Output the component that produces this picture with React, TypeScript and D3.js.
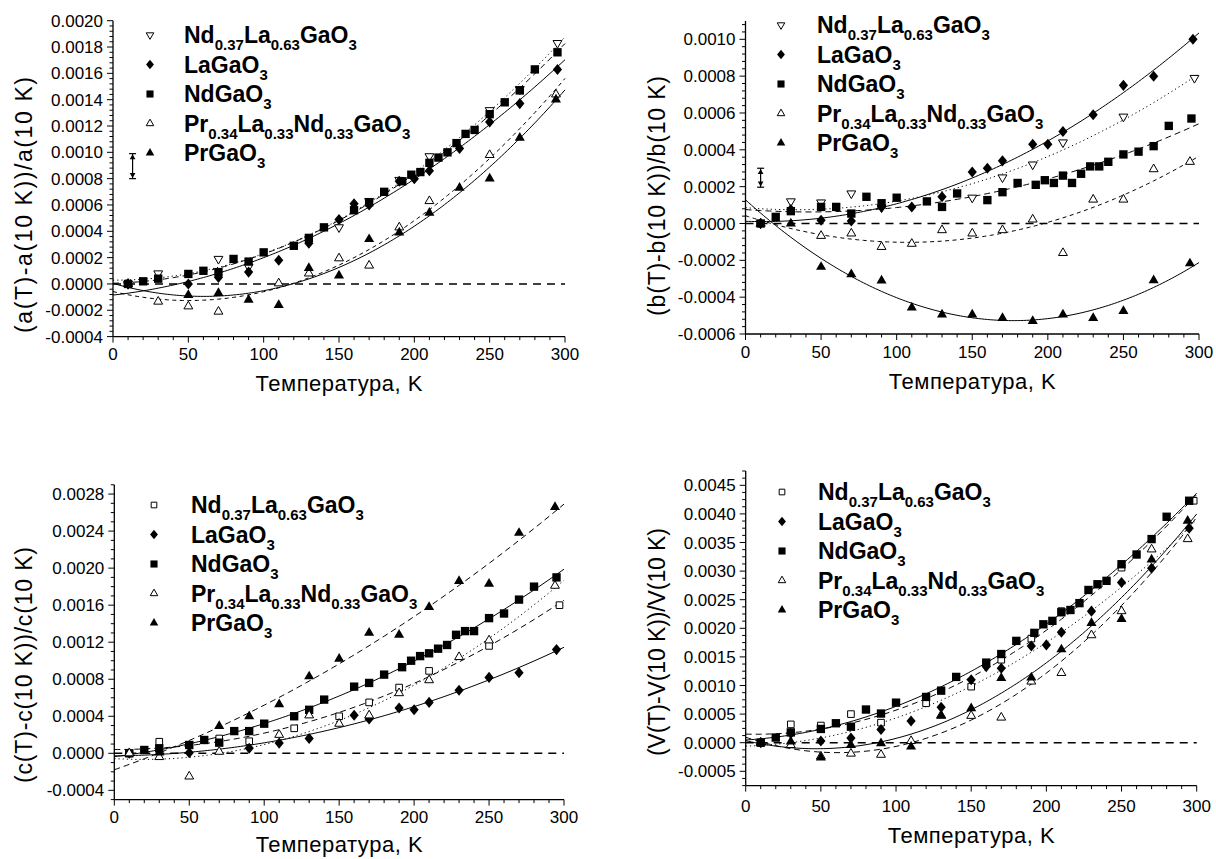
import * as d3 from "d3";

const FONT = "'Liberation Sans', Arial, Helvetica, sans-serif";

// ---------- (a) lattice parameter a ----------
const aNd37 = [[10, 0], [30, 0.00008], [70, 0.00019], [90, 0.00013], [150, 0.00043], [170, 0.00063], [190, 0.00079], [210, 0.00097], [250, 0.00132], [270, 0.00148], [295, 0.00183]];
const aLa = [[10, 0], [50, 0], [70, 0.00005], [90, 0.00009], [110, 0.00018], [130, 0.00031], [150, 0.00049], [160, 0.00061], [170, 0.0006], [190, 0.00078], [200, 0.0008], [210, 0.00086], [230, 0.00103], [250, 0.00123], [270, 0.00137], [295, 0.00163]];
const aNd = [[10, 0], [20, 0.00002], [30, 0.00004], [50, 0.000076], [60, 0.0001], [70, 0.00009], [80, 0.00019], [90, 0.00017], [100, 0.00024], [120, 0.00029], [130, 0.00035], [140, 0.00043], [160, 0.00056], [170, 0.00062], [180, 0.0007], [192, 0.00078], [198, 0.00083], [204, 0.00085], [210, 0.00092], [216, 0.00096], [222, 0.001], [228, 0.00107], [234, 0.00114], [240, 0.00117], [250, 0.00129], [260, 0.00138], [270, 0.00147], [280, 0.00163], [295, 0.00176]];
const aPr34 = [[10, 0], [30, -0.000134], [50, -0.00017], [70, -0.00021], [110, 0.000005], [130, 0.00008], [150, 0.000195], [170, 0.00014], [190, 0.00043], [210, 0.00063], [250, 0.00098], [294, 0.00144]];
const aPr = [[10, 0], [50, -0.000084], [70, -0.00007], [90, -0.00012], [110, -0.00016], [130, 0.00012], [150, 0.000063], [170, 0.00034], [190, 0.00039], [210, 0.00054], [230, 0.00073], [250, 0.0008], [270, 0.00111], [294, 0.0014]];

// ---------- (b) lattice parameter b ----------
const bNd37 = [[10, 0], [30, 0.00012], [50, 0.000114], [70, 0.000163], [90, 0.000087], [150, 0.00014], [170, 0.00025], [190, 0.00032], [210, 0.00044], [250, 0.00058], [297, 0.00079]];
const bLa = [[10, 0], [30, 0.000076], [50, 0.000018], [70, 0.000013], [90, 0.00009], [110, 0.00009], [130, 0.000145], [150, 0.00028], [160, 0.0003], [170, 0.00034], [190, 0.00043], [200, 0.00043], [210, 0.0005], [230, 0.00059], [250, 0.00075], [270, 0.0008], [296, 0.001]];
const bNd = [[10, 0], [20, 0.000036], [30, 0.000067], [50, 0.00009], [60, 0.00009], [70, 0.000054], [80, 0.000145], [90, 0.00011], [100, 0.00014], [120, 0.00012], [130, 0.00009], [140, 0.000163], [160, 0.000127], [170, 0.00017], [180, 0.00022], [192, 0.00021], [198, 0.000235], [204, 0.00022], [210, 0.00026], [216, 0.00022], [222, 0.00027], [228, 0.00031], [234, 0.00031], [240, 0.000335], [250, 0.000375], [260, 0.00039], [270, 0.00042], [280, 0.00053], [295, 0.00057]];
const bPr34 = [[10, 0], [50, -0.000067], [70, -0.000054], [90, -0.000127], [110, -0.00011], [130, -0.000036], [150, -0.000054], [170, -0.000036], [190, 0.000022], [210, -0.00016], [230, 0.00013], [250, 0.00013], [270, 0.000295], [294, 0.000335]];
const bPr = [[10, 0], [30, 0], [50, -0.000236], [70, -0.000276], [90, -0.00031], [110, -0.000457], [130, -0.000495], [150, -0.000495], [170, -0.000513], [190, -0.00053], [210, -0.000495], [230, -0.000513], [250, -0.000475], [270, -0.000308], [294, -0.000217]];

// ---------- (c) lattice parameter c ----------
const cNd37 = [[10, 0], [30, 0.000125], [50, 0.00009], [70, 0.00016], [90, 0.00013], [120, 0.00027], [150, 0.0004], [170, 0.00055], [190, 0.00071], [210, 0.00089], [250, 0.00116], [297, 0.0016]];
const cLa = [[10, 0], [50, 0.000007], [90, 0.000054], [110, 0.00011], [130, 0.00016], [160, 0.00041], [170, 0.00037], [190, 0.00049], [200, 0.00047], [210, 0.00055], [230, 0.00068], [250, 0.00082], [270, 0.00087], [295, 0.00112]];
const cNd = [[10, 0], [20, 0.000036], [30, 0.000054], [50, 0.00009], [60, 0.000144], [70, 0.000115], [80, 0.00024], [90, 0.00024], [100, 0.00032], [120, 0.0004], [130, 0.00047], [140, 0.00058], [160, 0.00072], [170, 0.00076], [180, 0.00085], [192, 0.00093], [198, 0.001], [204, 0.00105], [210, 0.00108], [216, 0.00113], [222, 0.00117], [228, 0.00128], [234, 0.00132], [240, 0.00132], [250, 0.00146], [260, 0.00151], [270, 0.00166], [280, 0.0018], [295, 0.0019]];
const cPr34 = [[10, 0], [30, -0.00004], [50, -0.00025], [70, 0.000017], [110, 0.0002], [130, 0.00041], [150, 0.00032], [170, 0.00041], [190, 0.00065], [210, 0.00079], [230, 0.00104], [250, 0.00122], [294, 0.00181]];
const cPr = [[30, 0.000007], [70, 0.000295], [90, 0.0004], [110, 0.00053], [130, 0.00083], [150, 0.00102], [170, 0.0013], [190, 0.00128], [210, 0.00158], [230, 0.00186], [250, 0.00183], [270, 0.00238], [294, 0.00266]];

// ---------- (d) cell volume V ----------
const dNd37 = [[10, 0], [30, 0.00032], [50, 0.0003], [70, 0.0005], [90, 0.00035], [120, 0.00069], [150, 0.00098], [170, 0.00145], [190, 0.00182], [210, 0.0023], [250, 0.00306], [298, 0.00423]];
const dLa = [[10, 0], [30, 0.00016], [50, 0.00003], [70, 0.00008], [90, 0.00023], [110, 0.00038], [130, 0.00062], [150, 0.0011], [160, 0.00133], [170, 0.0013], [190, 0.00169], [200, 0.00171], [210, 0.00193], [230, 0.0023], [250, 0.0028], [270, 0.00305], [295, 0.00375]];
const dNd = [[10, 0], [20, 0.00009], [30, 0.00018], [50, 0.00024], [60, 0.00034], [70, 0.00028], [80, 0.00058], [90, 0.00051], [100, 0.0007], [120, 0.0008], [130, 0.00091], [140, 0.00115], [160, 0.0014], [170, 0.00155], [180, 0.00178], [192, 0.00192], [198, 0.00207], [204, 0.00213], [210, 0.00228], [216, 0.00232], [222, 0.00244], [228, 0.00267], [234, 0.00277], [240, 0.00283], [250, 0.00312], [260, 0.00329], [270, 0.00356], [280, 0.00395], [295, 0.00423]];
const dPr34 = [[10, 0], [30, -0.00004], [50, -0.00024], [70, -0.00019], [90, -0.00021], [110, 0.00003], [130, 0.00048], [150, 0.00047], [170, 0.00044], [190, 0.00107], [210, 0.00122], [230, 0.00188], [250, 0.0023], [270, 0.00338], [294, 0.00356]];
const dPr = [[10, 0], [30, 0.00002], [50, -0.00026], [70, -0.00004], [90, -0.00001], [110, -0.00007], [130, 0.00047], [150, 0.0006], [170, 0.00113], [190, 0.00114], [210, 0.00163], [230, 0.00209], [250, 0.00216], [270, 0.0032], [294, 0.00388]];

// tick labels
const xTicks = [0, 50, 100, 150, 200, 250, 300];
const yTicksA = [-0.0004, -0.0002, 0, 0.0002, 0.0004, 0.0006, 0.0008, 0.001, 0.0012, 0.0014, 0.0016, 0.0018, 0.002];
const yTicksB = [-0.0006, -0.0004, -0.0002, 0, 0.0002, 0.0004, 0.0006, 0.0008, 0.001];
const yTicksC = [-0.0004, 0, 0.0004, 0.0008, 0.0012, 0.0016, 0.002, 0.0024, 0.0028];
const yTicksD = [-0.0005, 0, 0.0005, 0.001, 0.0015, 0.002, 0.0025, 0.003, 0.0035, 0.004, 0.0045];

// legend names (text, subscript?)
const nameNd37 = [["Nd", 0], ["0.37", 1], ["La", 0], ["0.63", 1], ["GaO", 0], ["3", 1]];
const nameLa = [["LaGaO", 0], ["3", 1]];
const nameNd = [["NdGaO", 0], ["3", 1]];
const namePr34 = [["Pr", 0], ["0.34", 1], ["La", 0], ["0.33", 1], ["Nd", 0], ["0.33", 1], ["GaO", 0], ["3", 1]];
const namePr = [["PrGaO", 0], ["3", 1]];

// error bars shown at the left of (a) and (b): [T, low, high]
const errA = [13, 0.0008, 0.00099];
const errB = [10, 0.000197, 0.0003];

const DOT = "1.2,3";
const DASH = "6,4";
const SDASH = "4,3.5";

// least squares parabola through the points
function fitQuad(pts) {
  let s0 = 0, s1 = 0, s2 = 0, s3 = 0, s4 = 0, t0 = 0, t1 = 0, t2 = 0;
  for (const [T, v] of pts) {
    const x = T / 100, x2 = x * x;
    s0 += 1; s1 += x; s2 += x2; s3 += x2 * x; s4 += x2 * x2;
    t0 += v; t1 += x * v; t2 += x2 * v;
  }
  const det3 = (m) =>
    m[0][0] * (m[1][1] * m[2][2] - m[1][2] * m[2][1]) -
    m[0][1] * (m[1][0] * m[2][2] - m[1][2] * m[2][0]) +
    m[0][2] * (m[1][0] * m[2][1] - m[1][1] * m[2][0]);
  const M = [[s0, s1, s2], [s1, s2, s3], [s2, s3, s4]];
  const r = [t0, t1, t2];
  const D = det3(M);
  const c = [0, 1, 2].map((k) => det3(M.map((row, i) => row.map((val, j) => (j === k ? r[i] : val)))) / D);
  return (T) => c[0] + c[1] * (T / 100) + c[2] * (T / 100) ** 2;
}

function Marker({ kind, x, y, k = 1 }) {
  const t = `translate(${x},${y})`;
  if (kind === "sq") return <path d={d3.symbol(d3.symbolSquare, 70 * k * k)()} transform={t} fill="#000" />;
  if (kind === "sqo")
    return <path d={d3.symbol(d3.symbolSquare, 44 * k * k)()} transform={t} fill="#fff" stroke="#000" strokeWidth={1} />;
  if (kind === "dia")
    return <path d={d3.symbol(d3.symbolDiamond2, 54 * k * k)()} transform={`${t} scale(1,1.2)`} fill="#000" />;
  if (kind === "tu") return <path d={d3.symbol(d3.symbolTriangle, 44 * k * k)()} transform={t} fill="#000" />;
  if (kind === "tuo")
    return <path d={d3.symbol(d3.symbolTriangle, 34 * k * k)()} transform={t} fill="#fff" stroke="#000" strokeWidth={1} />;
  // open triangle pointing down
  return (
    <path d={d3.symbol(d3.symbolTriangle, 34 * k * k)()} transform={`${t} rotate(180)`} fill="#fff" stroke="#000" strokeWidth={1} />
  );
}

function Label({ x, y, parts }) {
  let shift = 0;
  return (
    <text x={x} y={y} fontFamily={FONT} fontWeight="bold" fontSize={23} fill="#000">
      {parts.map(([s, sub], i) => {
        const target = sub ? 7 : 0;
        const dy = target - shift;
        shift = target;
        return (
          <tspan key={i} dy={dy} fontSize={sub ? 15 : 23}>
            {s}
          </tspan>
        );
      })}
    </text>
  );
}

const fmt = (v) => (Math.abs(v) < 1e-12 ? "0.0000" : v.toFixed(4));

function Panel({ cfg }) {
  const x = d3.scaleLinear().domain([0, 300]).range([cfg.x0, cfg.x1]);
  const y = d3.scaleLinear().domain(cfg.yDom).range(cfg.yRange);
  const yb = cfg.yRange[0];
  const minorX = d3.range(0, 301, 10).filter((t) => t % 50 !== 0);
  const minorY = d3.range(cfg.yDom[0], cfg.yDom[1] + 1e-9, cfg.minor).filter(
    (v) => !cfg.yTicks.some((t) => Math.abs(t - v) < cfg.minor / 10)
  );
  const line = d3.line().x((d) => x(d[0])).y((d) => y(d[1]));
  const grid = d3.range(0, 300.1, 2);
  const [eT, eLo, eHi] = cfg.err || [];
  return (
    <g>
      {/* zero line */}
      <line x1={x(0)} x2={x(300)} y1={y(0)} y2={y(0)} stroke="#000" strokeWidth={1.4} strokeDasharray="8,6" />
      {/* fits */}
      {cfg.series.map((s, i) => {
        const f = fitQuad(s.pts);
        return (
          <path
            key={"f" + i}
            d={line(grid.map((T) => [T, f(T)]))}
            fill="none"
            stroke="#000"
            strokeWidth={1}
            strokeDasharray={s.dash || null}
          />
        );
      })}
      {/* points */}
      {cfg.series.map((s, i) => (
        <g key={"p" + i}>
          {s.pts.map((p, j) => (
            <Marker key={j} kind={s.marker} x={x(p[0])} y={y(p[1])} />
          ))}
        </g>
      ))}
      {/* axes */}
      <line x1={cfg.x0} x2={cfg.x0} y1={cfg.yRange[0]} y2={cfg.yRange[1]} stroke="#000" strokeWidth={1.3} />
      <line x1={cfg.x0} x2={cfg.x1} y1={yb} y2={yb} stroke="#000" strokeWidth={1.3} />
      {xTicks.map((t) => (
        <g key={"xt" + t}>
          <line x1={x(t)} x2={x(t)} y1={yb} y2={yb + 6} stroke="#000" strokeWidth={1} />
          <text x={x(t)} y={cfg.xLabY} textAnchor="middle" fontFamily={FONT} fontSize={17}>
            {t}
          </text>
        </g>
      ))}
      {minorX.map((t) => (
        <line key={"xm" + t} x1={x(t)} x2={x(t)} y1={yb} y2={yb + 3.5} stroke="#000" strokeWidth={1} />
      ))}
      {cfg.yTicks.map((v) => (
        <g key={"yt" + v}>
          <line x1={cfg.x0 - 6} x2={cfg.x0} y1={y(v)} y2={y(v)} stroke="#000" strokeWidth={1} />
          <text x={cfg.x0 - 10} y={y(v)} dy="0.36em" textAnchor="end" fontFamily={FONT} fontSize={17}>
            {fmt(v)}
          </text>
        </g>
      ))}
      {minorY.map((v, i) => (
        <line key={"ym" + i} x1={cfg.x0 - 3.5} x2={cfg.x0} y1={y(v)} y2={y(v)} stroke="#000" strokeWidth={1} />
      ))}
      {/* titles */}
      <text
        x={(cfg.x0 + cfg.x1) / 2}
        y={cfg.xTitleY}
        textAnchor="middle"
        fontFamily={FONT}
        fontSize={22}
        textLength={167}
        lengthAdjust="spacing"
      >
        Температура, K
      </text>
      <text
        transform={`translate(${cfg.yTitleX},${cfg.yTitleY}) rotate(-90)`}
        textAnchor="middle"
        dy="0.35em"
        fontFamily={FONT}
        fontSize={23}
        textLength={cfg.yTitleLen}
        lengthAdjust="spacing"
      >
        {cfg.yTitle}
      </text>
      {/* legend */}
      {cfg.series.map((s, i) => (
        <g key={"l" + i}>
          <Marker kind={s.marker} x={cfg.legX} y={cfg.legY + i * 29.5} k={0.85} />
          <Label x={cfg.legTextX} y={cfg.legY + i * 29.5 + 8} parts={s.name} />
        </g>
      ))}
      {/* error bar */}
      {cfg.err && (
        <g stroke="#000" strokeWidth={1.2}>
          <line x1={x(eT)} x2={x(eT)} y1={y(eLo)} y2={y(eHi)} />
          <line x1={x(eT) - 3.5} x2={x(eT) + 3.5} y1={y(eLo)} y2={y(eLo)} />
          <line x1={x(eT) - 3.5} x2={x(eT) + 3.5} y1={y(eHi)} y2={y(eHi)} />
          <path d={d3.symbol(d3.symbolTriangle, 14)()} transform={`translate(${x(eT)},${y(eHi) + 4})`} fill="#000" stroke="none" />
          <path
            d={d3.symbol(d3.symbolTriangle, 14)()}
            transform={`translate(${x(eT)},${y(eLo) - 4}) rotate(180)`}
            fill="#000"
            stroke="none"
          />
        </g>
      )}
    </g>
  );
}

const panels = [
  {
    x0: 113, x1: 565, yDom: [-0.0004, 0.002], yRange: [336.6, 20.7], yTicks: yTicksA, minor: 0.00004,
    xLabY: 360, xTitleY: 391, yTitle: "(a(T)-a(10 K))/a(10 K)", yTitleX: 24, yTitleY: 205, yTitleLen: 256,
    legX: 150, legTextX: 184, legY: 35, err: errA,
    series: [
      { pts: aNd37, marker: "tdo", dash: DOT, name: nameNd37 },
      { pts: aLa, marker: "dia", dash: null, name: nameLa },
      { pts: aNd, marker: "sq", dash: DASH, name: nameNd },
      { pts: aPr34, marker: "tuo", dash: SDASH, name: namePr34 },
      { pts: aPr, marker: "tu", dash: null, name: namePr },
    ],
  },
  {
    x0: 745.5, x1: 1199, yDom: [-0.0006, 0.0011], yRange: [334, 20.9], yTicks: yTicksB, minor: 0.00004,
    xLabY: 358, xTitleY: 389, yTitle: "(b(T)-b(10 K))/b(10 K)", yTitleX: 657, yTitleY: 196, yTitleLen: 240,
    legX: 781, legTextX: 817, legY: 25, err: errB,
    series: [
      { pts: bNd37, marker: "tdo", dash: DOT, name: nameNd37 },
      { pts: bLa, marker: "dia", dash: null, name: nameLa },
      { pts: bNd, marker: "sq", dash: DASH, name: nameNd },
      { pts: bPr34, marker: "tuo", dash: SDASH, name: namePr34 },
      { pts: bPr, marker: "tu", dash: null, name: namePr },
    ],
  },
  {
    x0: 114.3, x1: 564, yDom: [-0.0005, 0.0029], yRange: [799.6, 484.8], yTicks: yTicksC, minor: 0.0001,
    xLabY: 823, xTitleY: 852, yTitle: "(c(T)-c(10 K))/c(10 K)", yTitleX: 24, yTitleY: 665, yTitleLen: 236,
    legX: 154, legTextX: 191, legY: 505,
    series: [
      { pts: cNd37, marker: "sqo", dash: DASH, name: nameNd37 },
      { pts: cLa, marker: "dia", dash: null, name: nameLa },
      { pts: cNd, marker: "sq", dash: null, name: nameNd },
      { pts: cPr34, marker: "tuo", dash: DOT, name: namePr34 },
      { pts: cPr, marker: "tu", dash: DASH, name: namePr },
    ],
  },
  {
    x0: 745.7, x1: 1196.7, yDom: [-0.00075, 0.00475], yRange: [785.6, 471], yTicks: yTicksD, minor: 0.000125,
    xLabY: 812, xTitleY: 843, yTitle: "(V(T)-V(10 K))/V(10 K)", yTitleX: 657, yTitleY: 642, yTitleLen: 228,
    legX: 782, legTextX: 818, legY: 492,
    series: [
      { pts: dNd37, marker: "sqo", dash: DASH, name: nameNd37 },
      { pts: dLa, marker: "dia", dash: DOT, name: nameLa },
      { pts: dNd, marker: "sq", dash: null, name: nameNd },
      { pts: dPr34, marker: "tuo", dash: DASH, name: namePr34 },
      { pts: dPr, marker: "tu", dash: null, name: namePr },
    ],
  },
];

export default function App() {
  return (
    <svg
      width={1216}
      height={859}
      style={{ position: "absolute", left: 0, top: 0, background: "#fff" }}
    >
      <rect width={1216} height={859} fill="#fff" />
      {panels.map((p, i) => (
        <Panel key={i} cfg={p} />
      ))}
    </svg>
  );
}
